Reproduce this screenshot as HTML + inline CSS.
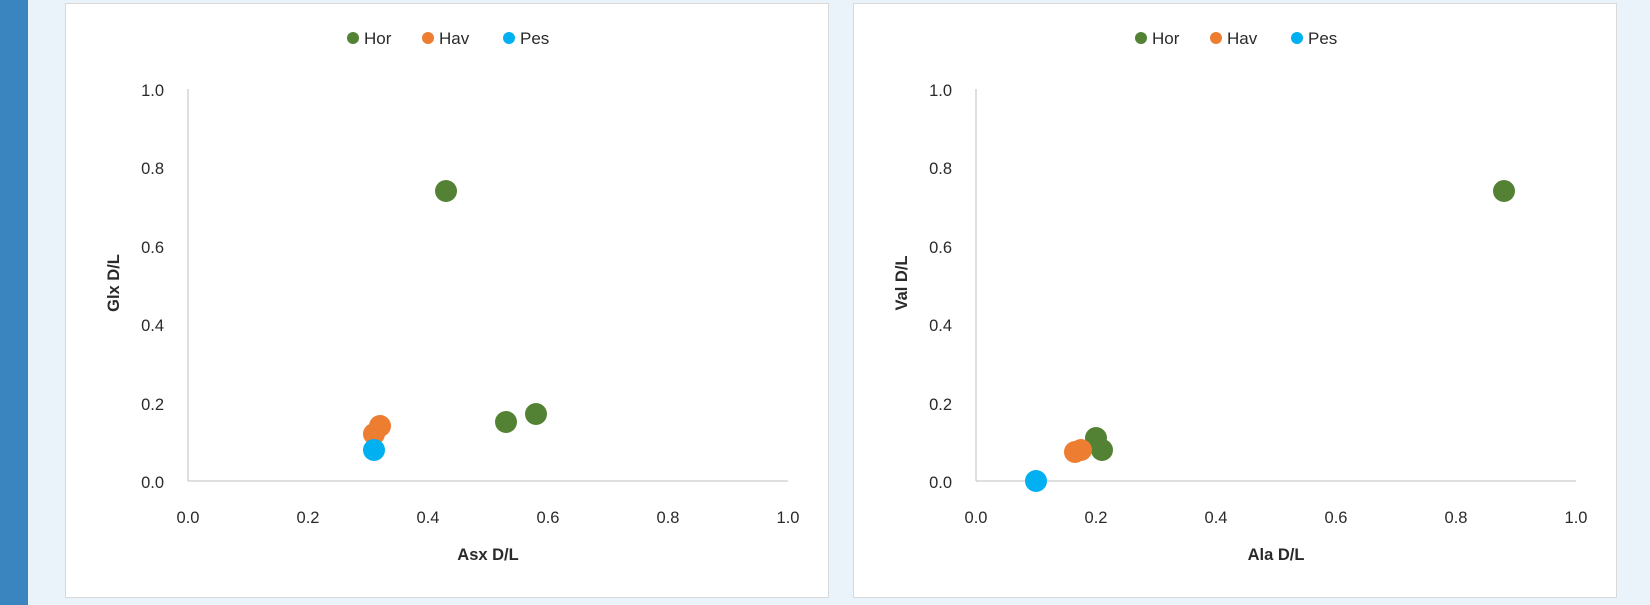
<!DOCTYPE html>
<html><head><style>
html,body{margin:0;padding:0;width:1650px;height:605px;overflow:hidden;background:#eaf3fa}
svg{display:block}
text{font-family:"Liberation Sans",sans-serif;fill:#2a2a2a}
</style></head><body>
<svg width="1650" height="605" xmlns="http://www.w3.org/2000/svg">
<rect x="0" y="0" width="1650" height="605" fill="#eaf3fa"/>
<rect x="0" y="0" width="28" height="605" fill="#3a85c0"/>
<g id="p1">
<rect x="65.5" y="3.5" width="763" height="594" fill="#fff" stroke="#d9d9d9"/>
<line x1="188" y1="89" x2="188" y2="481" stroke="#bfbfbf"/>
<line x1="188" y1="481" x2="788" y2="481" stroke="#bfbfbf"/>
<g font-size="16.5" text-anchor="end">
<text x="164" y="488">0.0</text><text x="164" y="410">0.2</text><text x="164" y="331">0.4</text><text x="164" y="253">0.6</text><text x="164" y="174">0.8</text><text x="164" y="96">1.0</text>
</g>
<g font-size="16.5" text-anchor="middle">
<text x="188" y="523">0.0</text><text x="308" y="523">0.2</text><text x="428" y="523">0.4</text><text x="548" y="523">0.6</text><text x="668" y="523">0.8</text><text x="788" y="523">1.0</text>
</g>
<text x="488" y="560" font-size="16.5" font-weight="bold" text-anchor="middle">Asx D/L</text>
<text transform="translate(119,283) rotate(-90)" font-size="16.5" font-weight="bold" text-anchor="middle">Glx D/L</text>
<circle cx="446" cy="191" r="11" fill="#548235"/>
<circle cx="506" cy="422" r="11" fill="#548235"/>
<circle cx="536" cy="414" r="11" fill="#548235"/>
<circle cx="374" cy="434" r="11" fill="#ed7d31"/>
<circle cx="380" cy="426" r="11" fill="#ed7d31"/>
<circle cx="374" cy="450" r="11" fill="#00b0f0"/>
<g font-size="17">
<circle cx="353" cy="38" r="6" fill="#548235"/><text x="364" y="44">Hor</text>
<circle cx="428" cy="38" r="6" fill="#ed7d31"/><text x="439" y="44">Hav</text>
<circle cx="509" cy="38" r="6" fill="#00b0f0"/><text x="520" y="44">Pes</text>
</g>
</g>
<g id="p2">
<rect x="853.5" y="3.5" width="763" height="594" fill="#fff" stroke="#d9d9d9"/>
<line x1="976" y1="89" x2="976" y2="481" stroke="#bfbfbf"/>
<line x1="976" y1="481" x2="1576" y2="481" stroke="#bfbfbf"/>
<g font-size="16.5" text-anchor="end">
<text x="952" y="488">0.0</text><text x="952" y="410">0.2</text><text x="952" y="331">0.4</text><text x="952" y="253">0.6</text><text x="952" y="174">0.8</text><text x="952" y="96">1.0</text>
</g>
<g font-size="16.5" text-anchor="middle">
<text x="976" y="523">0.0</text><text x="1096" y="523">0.2</text><text x="1216" y="523">0.4</text><text x="1336" y="523">0.6</text><text x="1456" y="523">0.8</text><text x="1576" y="523">1.0</text>
</g>
<text x="1276" y="560" font-size="16.5" font-weight="bold" text-anchor="middle">Ala D/L</text>
<text transform="translate(907,283) rotate(-90)" font-size="16.5" font-weight="bold" text-anchor="middle">Val D/L</text>
<circle cx="1504" cy="191" r="11" fill="#548235"/>
<circle cx="1096" cy="438" r="11" fill="#548235"/>
<circle cx="1102" cy="450" r="11" fill="#548235"/>
<circle cx="1075" cy="452" r="11" fill="#ed7d31"/>
<circle cx="1081" cy="450" r="11" fill="#ed7d31"/>
<circle cx="1036" cy="481" r="11" fill="#00b0f0"/>
<g font-size="17">
<circle cx="1141" cy="38" r="6" fill="#548235"/><text x="1152" y="44">Hor</text>
<circle cx="1216" cy="38" r="6" fill="#ed7d31"/><text x="1227" y="44">Hav</text>
<circle cx="1297" cy="38" r="6" fill="#00b0f0"/><text x="1308" y="44">Pes</text>
</g>
</g>
</svg>
</body></html>
